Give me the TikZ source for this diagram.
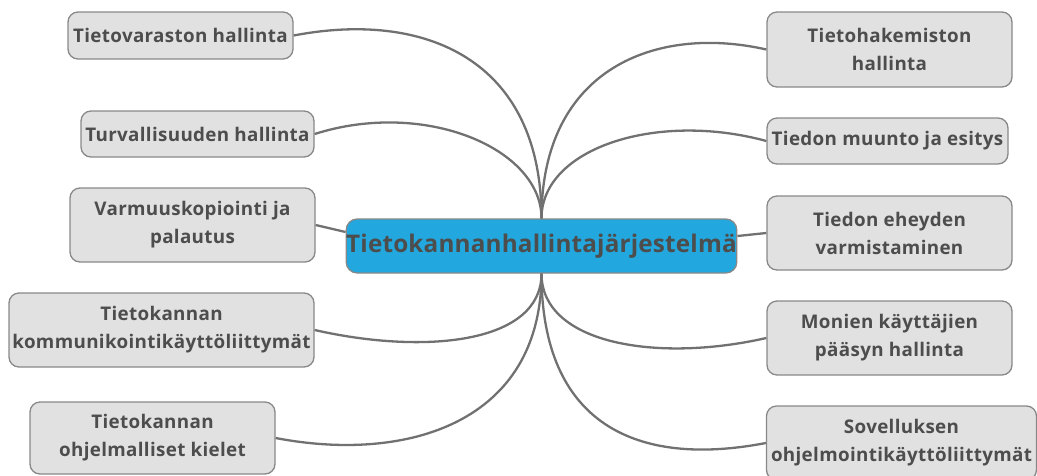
\documentclass[tikz,border=0pt]{standalone}
\usepackage{fontspec}
\setmainfont{Open Sans}
\newfontfamily\boxfont[LetterSpace=1.8]{Open Sans}
\newfontfamily\mainfont[LetterSpace=0.7]{Open Sans}
\usetikzlibrary{calc}
\definecolor{txt}{HTML}{4D4D4D}
\definecolor{boxfill}{HTML}{E1E1E1}
\definecolor{boxline}{HTML}{888888}
\definecolor{link}{HTML}{717171}
\definecolor{mainfill}{HTML}{22A8DE}
\tikzset{
  topic/.style={draw=boxline, line width=1.3pt, fill=boxfill, rounded corners=10pt,
    text=txt, font=\boxfont\bfseries\fontsize{18.8}{28}\selectfont, align=center,
    inner sep=0pt},
  central/.style={draw=boxline, line width=1.3pt, fill=mainfill, rounded corners=11pt,
    text=txt, font=\mainfont\bfseries\fontsize{24.3}{28}\selectfont, align=center, inner sep=0pt},
  linkline/.style={draw=link, line width=2.3pt}
}
\begin{document}
\begin{tikzpicture}[x=1pt,y=-1pt]
\useasboundingbox (0,0) rectangle (1037,475);
\node[central, minimum width=389pt, minimum height=54pt] (c) at (541.5,246) {Tietokannanhallintajärjestelmä};
\node[topic, minimum width=225pt, minimum height=47pt] (n1) at (180.5,35.5) {Tietovaraston hallinta};
\node[topic, minimum width=233pt, minimum height=46pt] (n2) at (197.5,134) {Turvallisuuden hallinta};
\node[topic, minimum width=245pt, minimum height=74pt] (n3) at (192.5,225) {Varmuuskopiointi ja\\palautus};
\node[topic, minimum width=305pt, minimum height=74pt] (n4) at (161.5,330) {Tietokannan\\kommunikointikäyttöliittymät};
\node[topic, minimum width=245pt, minimum height=72pt] (n5) at (152.5,438) {Tietokannan\\ohjelmalliset kielet};
\node[topic, minimum width=245pt, minimum height=75pt] (m1) at (889.5,49.5) {Tietohakemiston\\hallinta};
\node[topic, minimum width=241pt, minimum height=46pt] (m2) at (887.5,141) {Tiedon muunto ja esitys};
\node[topic, minimum width=245pt, minimum height=74pt] (m3) at (889.5,233) {Tiedon eheyden\\varmistaminen};
\node[topic, minimum width=245pt, minimum height=74pt] (m4) at (889.5,338) {Monien käyttäjien\\pääsyn hallinta};
\node[topic, minimum width=270pt, minimum height=74pt] (m5) at (901.5,443) {Sovelluksen\\ohjelmointikäyttöliittymät};
% connectors
\draw[linkline] (c.north) .. controls +(0,-160) and +(130,-25) .. (n1.east);
\draw[linkline] (c.north) .. controls +(0,-70) and +(110,-35) .. (n2.east);
\draw[linkline] (n3.east) -- ($(c.west)+(0,-14)$);
\draw[linkline] (c.south) .. controls +(0,70) and +(110,25) .. (n4.east);
\draw[linkline] (c.south) .. controls +(0,150) and +(130,25) .. (n5.east);
\draw[linkline] (c.north) .. controls +(0,-150) and +(-110,-25) .. (m1.west);
\draw[linkline] (c.north) .. controls +(0,-70) and +(-110,-30) .. (m2.west);
\draw[linkline] ($(c.east)+(0,-10)$) -- (m3.west);
\draw[linkline] (c.south) .. controls +(0,70) and +(-110,25) .. (m4.west);
\draw[linkline] (c.south) .. controls +(0,150) and +(-130,25) .. (m5.west);
\end{tikzpicture}
\end{document}
